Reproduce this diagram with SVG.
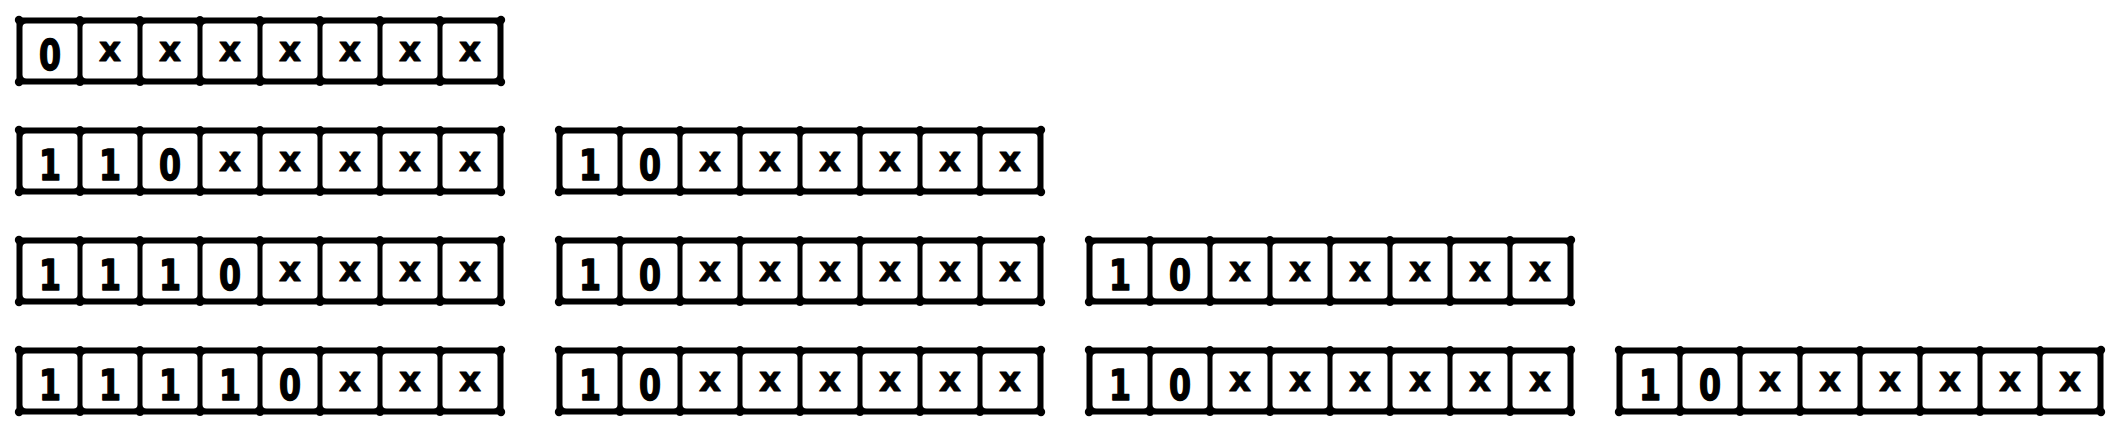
<svg xmlns="http://www.w3.org/2000/svg" xmlns:xlink="http://www.w3.org/1999/xlink" width="2122" height="440" viewBox="0 0 2122 440">
<style>
text{font-family:"DejaVu Sans","Liberation Sans",sans-serif;font-weight:bold;text-anchor:middle;fill:#000;stroke:#000;stroke-linejoin:round}
text.d{font-size:43px;stroke-width:1.6px}
text.x{font-size:33px;stroke-width:1px}
.cell{fill:#fff}
</style>
<defs>
<g id="frame">
<rect x="-3.5" y="-3.5" width="487" height="67" rx="3" fill="#000"/>
<rect class="cell" x="2.5" y="2.5" width="55" height="55" rx="4"/>
<rect class="cell" x="62.5" y="2.5" width="55" height="55" rx="4"/>
<rect class="cell" x="122.5" y="2.5" width="55" height="55" rx="4"/>
<rect class="cell" x="182.5" y="2.5" width="55" height="55" rx="4"/>
<rect class="cell" x="242.5" y="2.5" width="55" height="55" rx="4"/>
<rect class="cell" x="302.5" y="2.5" width="55" height="55" rx="4"/>
<rect class="cell" x="362.5" y="2.5" width="55" height="55" rx="4"/>
<rect class="cell" x="422.5" y="2.5" width="55" height="55" rx="4"/>
<g fill="#000">
<circle cx="-1" cy="-1" r="4.2"/><circle cx="60" cy="-1.5" r="3.6"/><circle cx="120" cy="-1.5" r="3.6"/><circle cx="180" cy="-1.5" r="3.6"/><circle cx="240" cy="-1.5" r="3.6"/><circle cx="300" cy="-1.5" r="3.6"/><circle cx="360" cy="-1.5" r="3.6"/><circle cx="420" cy="-1.5" r="3.6"/><circle cx="481" cy="-1" r="4.2"/>
<circle cx="-1" cy="61" r="4.2"/><circle cx="60" cy="61.5" r="3.6"/><circle cx="120" cy="61.5" r="3.6"/><circle cx="180" cy="61.5" r="3.6"/><circle cx="240" cy="61.5" r="3.6"/><circle cx="300" cy="61.5" r="3.6"/><circle cx="360" cy="61.5" r="3.6"/><circle cx="420" cy="61.5" r="3.6"/><circle cx="481" cy="61" r="4.2"/>
</g>
</g>
</defs>
<rect width="2122" height="440" fill="#fff"/>

<g id="row1-block1" transform="translate(20,21)">
<use xlink:href="#frame" href="#frame"/>
<text class="d" x="30" y="49" textLength="22" lengthAdjust="spacingAndGlyphs">0</text><text class="x" x="90" y="40" textLength="22" lengthAdjust="spacingAndGlyphs">x</text><text class="x" x="150" y="40" textLength="22" lengthAdjust="spacingAndGlyphs">x</text><text class="x" x="210" y="40" textLength="22" lengthAdjust="spacingAndGlyphs">x</text><text class="x" x="270" y="40" textLength="22" lengthAdjust="spacingAndGlyphs">x</text><text class="x" x="330" y="40" textLength="22" lengthAdjust="spacingAndGlyphs">x</text><text class="x" x="390" y="40" textLength="22" lengthAdjust="spacingAndGlyphs">x</text><text class="x" x="450" y="40" textLength="22" lengthAdjust="spacingAndGlyphs">x</text>
</g>

<g id="row2-block1" transform="translate(20,131)">
<use xlink:href="#frame" href="#frame"/>
<text class="d" x="30" y="49" textLength="22" lengthAdjust="spacingAndGlyphs">1</text><text class="d" x="90" y="49" textLength="22" lengthAdjust="spacingAndGlyphs">1</text><text class="d" x="150" y="49" textLength="22" lengthAdjust="spacingAndGlyphs">0</text><text class="x" x="210" y="40" textLength="22" lengthAdjust="spacingAndGlyphs">x</text><text class="x" x="270" y="40" textLength="22" lengthAdjust="spacingAndGlyphs">x</text><text class="x" x="330" y="40" textLength="22" lengthAdjust="spacingAndGlyphs">x</text><text class="x" x="390" y="40" textLength="22" lengthAdjust="spacingAndGlyphs">x</text><text class="x" x="450" y="40" textLength="22" lengthAdjust="spacingAndGlyphs">x</text>
</g>
<g id="row2-block2" transform="translate(560,131)">
<use xlink:href="#frame" href="#frame"/>
<text class="d" x="30" y="49" textLength="22" lengthAdjust="spacingAndGlyphs">1</text><text class="d" x="90" y="49" textLength="22" lengthAdjust="spacingAndGlyphs">0</text><text class="x" x="150" y="40" textLength="22" lengthAdjust="spacingAndGlyphs">x</text><text class="x" x="210" y="40" textLength="22" lengthAdjust="spacingAndGlyphs">x</text><text class="x" x="270" y="40" textLength="22" lengthAdjust="spacingAndGlyphs">x</text><text class="x" x="330" y="40" textLength="22" lengthAdjust="spacingAndGlyphs">x</text><text class="x" x="390" y="40" textLength="22" lengthAdjust="spacingAndGlyphs">x</text><text class="x" x="450" y="40" textLength="22" lengthAdjust="spacingAndGlyphs">x</text>
</g>

<g id="row3-block1" transform="translate(20,241)">
<use xlink:href="#frame" href="#frame"/>
<text class="d" x="30" y="49" textLength="22" lengthAdjust="spacingAndGlyphs">1</text><text class="d" x="90" y="49" textLength="22" lengthAdjust="spacingAndGlyphs">1</text><text class="d" x="150" y="49" textLength="22" lengthAdjust="spacingAndGlyphs">1</text><text class="d" x="210" y="49" textLength="22" lengthAdjust="spacingAndGlyphs">0</text><text class="x" x="270" y="40" textLength="22" lengthAdjust="spacingAndGlyphs">x</text><text class="x" x="330" y="40" textLength="22" lengthAdjust="spacingAndGlyphs">x</text><text class="x" x="390" y="40" textLength="22" lengthAdjust="spacingAndGlyphs">x</text><text class="x" x="450" y="40" textLength="22" lengthAdjust="spacingAndGlyphs">x</text>
</g>
<g id="row3-block2" transform="translate(560,241)">
<use xlink:href="#frame" href="#frame"/>
<text class="d" x="30" y="49" textLength="22" lengthAdjust="spacingAndGlyphs">1</text><text class="d" x="90" y="49" textLength="22" lengthAdjust="spacingAndGlyphs">0</text><text class="x" x="150" y="40" textLength="22" lengthAdjust="spacingAndGlyphs">x</text><text class="x" x="210" y="40" textLength="22" lengthAdjust="spacingAndGlyphs">x</text><text class="x" x="270" y="40" textLength="22" lengthAdjust="spacingAndGlyphs">x</text><text class="x" x="330" y="40" textLength="22" lengthAdjust="spacingAndGlyphs">x</text><text class="x" x="390" y="40" textLength="22" lengthAdjust="spacingAndGlyphs">x</text><text class="x" x="450" y="40" textLength="22" lengthAdjust="spacingAndGlyphs">x</text>
</g>
<g id="row3-block3" transform="translate(1090,241)">
<use xlink:href="#frame" href="#frame"/>
<text class="d" x="30" y="49" textLength="22" lengthAdjust="spacingAndGlyphs">1</text><text class="d" x="90" y="49" textLength="22" lengthAdjust="spacingAndGlyphs">0</text><text class="x" x="150" y="40" textLength="22" lengthAdjust="spacingAndGlyphs">x</text><text class="x" x="210" y="40" textLength="22" lengthAdjust="spacingAndGlyphs">x</text><text class="x" x="270" y="40" textLength="22" lengthAdjust="spacingAndGlyphs">x</text><text class="x" x="330" y="40" textLength="22" lengthAdjust="spacingAndGlyphs">x</text><text class="x" x="390" y="40" textLength="22" lengthAdjust="spacingAndGlyphs">x</text><text class="x" x="450" y="40" textLength="22" lengthAdjust="spacingAndGlyphs">x</text>
</g>

<g id="row4-block1" transform="translate(20,351)">
<use xlink:href="#frame" href="#frame"/>
<text class="d" x="30" y="49" textLength="22" lengthAdjust="spacingAndGlyphs">1</text><text class="d" x="90" y="49" textLength="22" lengthAdjust="spacingAndGlyphs">1</text><text class="d" x="150" y="49" textLength="22" lengthAdjust="spacingAndGlyphs">1</text><text class="d" x="210" y="49" textLength="22" lengthAdjust="spacingAndGlyphs">1</text><text class="d" x="270" y="49" textLength="22" lengthAdjust="spacingAndGlyphs">0</text><text class="x" x="330" y="40" textLength="22" lengthAdjust="spacingAndGlyphs">x</text><text class="x" x="390" y="40" textLength="22" lengthAdjust="spacingAndGlyphs">x</text><text class="x" x="450" y="40" textLength="22" lengthAdjust="spacingAndGlyphs">x</text>
</g>
<g id="row4-block2" transform="translate(560,351)">
<use xlink:href="#frame" href="#frame"/>
<text class="d" x="30" y="49" textLength="22" lengthAdjust="spacingAndGlyphs">1</text><text class="d" x="90" y="49" textLength="22" lengthAdjust="spacingAndGlyphs">0</text><text class="x" x="150" y="40" textLength="22" lengthAdjust="spacingAndGlyphs">x</text><text class="x" x="210" y="40" textLength="22" lengthAdjust="spacingAndGlyphs">x</text><text class="x" x="270" y="40" textLength="22" lengthAdjust="spacingAndGlyphs">x</text><text class="x" x="330" y="40" textLength="22" lengthAdjust="spacingAndGlyphs">x</text><text class="x" x="390" y="40" textLength="22" lengthAdjust="spacingAndGlyphs">x</text><text class="x" x="450" y="40" textLength="22" lengthAdjust="spacingAndGlyphs">x</text>
</g>
<g id="row4-block3" transform="translate(1090,351)">
<use xlink:href="#frame" href="#frame"/>
<text class="d" x="30" y="49" textLength="22" lengthAdjust="spacingAndGlyphs">1</text><text class="d" x="90" y="49" textLength="22" lengthAdjust="spacingAndGlyphs">0</text><text class="x" x="150" y="40" textLength="22" lengthAdjust="spacingAndGlyphs">x</text><text class="x" x="210" y="40" textLength="22" lengthAdjust="spacingAndGlyphs">x</text><text class="x" x="270" y="40" textLength="22" lengthAdjust="spacingAndGlyphs">x</text><text class="x" x="330" y="40" textLength="22" lengthAdjust="spacingAndGlyphs">x</text><text class="x" x="390" y="40" textLength="22" lengthAdjust="spacingAndGlyphs">x</text><text class="x" x="450" y="40" textLength="22" lengthAdjust="spacingAndGlyphs">x</text>
</g>
<g id="row4-block4" transform="translate(1620,351)">
<use xlink:href="#frame" href="#frame"/>
<text class="d" x="30" y="49" textLength="22" lengthAdjust="spacingAndGlyphs">1</text><text class="d" x="90" y="49" textLength="22" lengthAdjust="spacingAndGlyphs">0</text><text class="x" x="150" y="40" textLength="22" lengthAdjust="spacingAndGlyphs">x</text><text class="x" x="210" y="40" textLength="22" lengthAdjust="spacingAndGlyphs">x</text><text class="x" x="270" y="40" textLength="22" lengthAdjust="spacingAndGlyphs">x</text><text class="x" x="330" y="40" textLength="22" lengthAdjust="spacingAndGlyphs">x</text><text class="x" x="390" y="40" textLength="22" lengthAdjust="spacingAndGlyphs">x</text><text class="x" x="450" y="40" textLength="22" lengthAdjust="spacingAndGlyphs">x</text>
</g>
</svg>
